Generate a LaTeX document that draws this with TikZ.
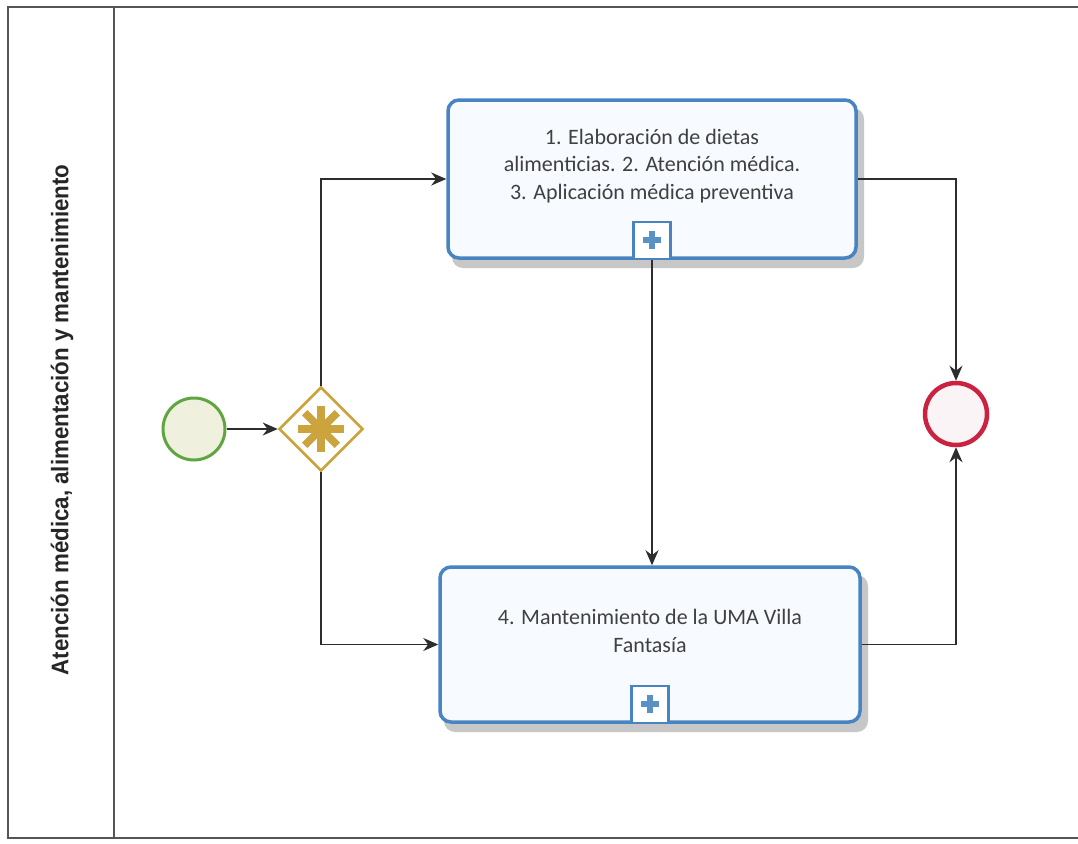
\documentclass[tikz,border=0pt]{standalone}
\usepackage{fontspec}
\setmainfont{Carlito}
\newfontfamily\lanefont{Liberation Sans}
\usetikzlibrary{arrows.meta,shapes.geometric,calc}

\definecolor{taskblue}{RGB}{72,132,194}
\definecolor{taskfill}{RGB}{247,250,254}
\definecolor{gwgold}{RGB}{204,164,62}
\definecolor{startgreen}{RGB}{96,166,64}
\definecolor{startfill}{RGB}{240,240,222}
\definecolor{endred}{RGB}{204,34,66}
\definecolor{endfill}{RGB}{250,244,246}
\definecolor{flowgray}{RGB}{45,45,45}
\definecolor{framegray}{RGB}{85,85,85}

\tikzset{
  taskbox/.style={draw=taskblue, line width=3.5pt, fill=taskfill, rounded corners=11pt},
  tasktext/.style={font=\fontsize{22}{27.5}\selectfont, text=black!75, align=center},
  taskshadow/.style={fill=black!22, rounded corners=11pt},
  marker/.style={draw=taskblue, line width=2.2pt, fill=white, minimum size=37pt, inner sep=0pt},
  flow/.style={draw=flowgray, line width=1.1pt, -{Stealth[length=15pt,width=13pt]}},
  lane/.style={draw=framegray, line width=2.4pt},
}

\begin{document}
\begin{tikzpicture}[x=1pt,y=-1pt]
  \useasboundingbox (0,0) rectangle (1078,843);
  \fill[white] (0,0) rectangle (1078,843);

  % pool and lane frame
  \draw[lane] (1090,7) -- (8,7) -- (8,838) -- (1090,838);
  \draw[lane] (114,7) -- (114,838);
  \node[rotate=90, font=\lanefont\bfseries\fontsize{24}{28}\selectfont, text=black!85, xscale=0.93]
    (lanelabel) at (62,420) {Atención médica, alimentación y mantenimiento};

  % task shadows
  \fill[taskshadow] (452,108) rectangle (864,268);
  \fill[taskshadow] (444,575) rectangle (868,732);

  % tasks
  \node[taskbox, minimum width=408pt, minimum height=158pt] (t1) at (652,179) {};
  \node[tasktext] (t1text) at (652,166)
    {1. Elaboración de dietas\\alimenticias. 2. Atención médica.\\3. Aplicación médica preventiva};
  \node[taskbox, minimum width=420pt, minimum height=155pt] (t2) at (650,644.5) {};
  \node[tasktext] (t2text) at (650,631)
    {4. Mantenimiento de la UMA Villa\\Fantasía};

  % collapsed sub-process markers
  \node[marker, anchor=south] (m1) at (t1.south) {};
  \node[marker, anchor=south] (m2) at (t2.south) {};
  \foreach \m in {m1,m2} {
    \fill[taskblue!90] ($(\m.center)+(-9,-3)$) rectangle ($(\m.center)+(9,3)$);
    \fill[taskblue!90] ($(\m.center)+(-3,-9)$) rectangle ($(\m.center)+(3,9)$);
  }

  % events and gateway
  \node[circle, draw=startgreen, line width=3pt, fill=startfill, minimum size=62pt, inner sep=0pt]
    (start) at (194,429) {};
  \node[diamond, draw=gwgold, line width=2.6pt, fill=white, minimum width=84pt, minimum height=84pt,
    inner sep=0pt, aspect=1] (gw) at (321,429) {};
  \foreach \a in {0,45,90,135} {
    \draw[gwgold, line width=7.5pt] ($(gw.center)+(\a:23)$) -- ($(gw.center)+(\a+180:23)$);
  }
  \node[circle, draw=endred, line width=4.5pt, fill=endfill, minimum size=62pt, inner sep=0pt]
    (end) at (956,414) {};

  % sequence flows
  \draw[flow] (start.east) -- (gw.west);
  \draw[flow] (gw.north) |- (t1.west);
  \draw[flow] (gw.south) |- (t2.west);
  \draw[flow] (m1.south) -- (m1.south |- t2.north);
  \draw[flow] (t1.east) -| (end.north);
  \draw[flow] (t2.east) -| (end.south);
\end{tikzpicture}
\end{document}
